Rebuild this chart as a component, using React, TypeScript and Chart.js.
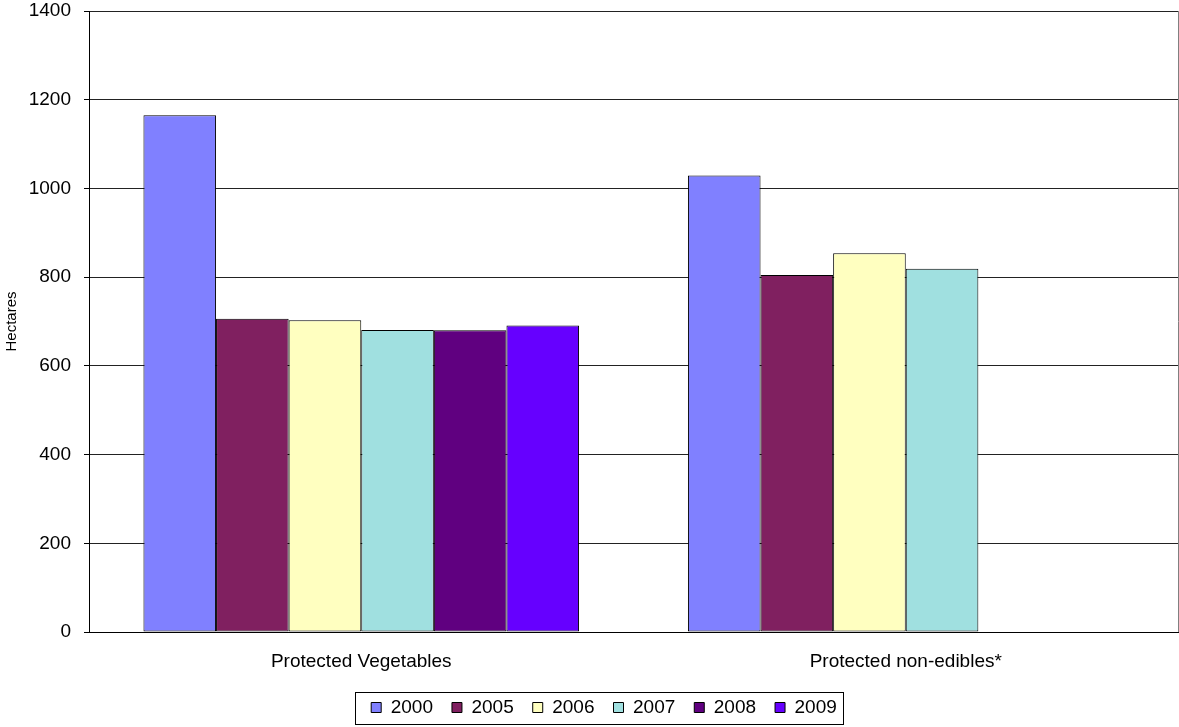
import React, { useEffect, useRef } from "react";
import { Chart, registerables } from "chart.js";

Chart.register(...registerables);

const categories = ["Protected Vegetables", "Protected non-edibles*"];
const seriesLabels = ["2000", "2005", "2006", "2007", "2008", "2009"];
const values2000 = [1165, 1029];
const values2005 = [706, 805];
const values2006 = [703, 854];
const values2007 = [681, 819];
const values2008 = [680, null];
const values2009 = [691, null];
const seriesColors = ["#8080FF", "#802060", "#FFFFC0", "#A0E0E0", "#600080", "#6600FF"];
const yTicks = { min: 0, max: 1400, step: 200 };

const FONT = "'Liberation Sans', Arial, sans-serif";

const chromePlugin = {
  id: "chrome",
  afterLayout(chart: any) {
    const lg = chart.legend;
    if (!lg) return;
    const shift = 15;
    lg.left += shift;
    lg.right += shift;
    (lg.legendHitBoxes || []).forEach((h: any) => (h.left += shift));
  },
  afterDraw(chart: any) {
    const ctx = chart.ctx;
    const a = chart.chartArea;
    ctx.save();
    ctx.strokeStyle = "#808080";
    ctx.lineWidth = 1;
    ctx.beginPath();
    ctx.moveTo(Math.round(a.right) + 0.5, a.top);
    ctx.lineTo(Math.round(a.right) + 0.5, a.bottom);
    ctx.stroke();
    const boxes = chart.legend?.legendHitBoxes || [];
    if (boxes.length) {
      const first = boxes[0];
      const last = boxes[boxes.length - 1];
      const left = first.left - 16;
      const right = last.left + last.width + 6;
      const top = first.top - 6;
      const bottom = first.top + first.height + 7;
      ctx.strokeStyle = "#000";
      ctx.strokeRect(Math.round(left) + 0.5, Math.round(top) + 0.5, Math.round(right - left), Math.round(bottom - top));
    }
    ctx.restore();
  },
};

export default function App() {
  const ref = useRef<HTMLCanvasElement | null>(null);
  useEffect(() => {
    if (!ref.current) return;
    const seriesValues = [values2000, values2005, values2006, values2007, values2008, values2009];
    const chart = new Chart(ref.current, {
      type: "bar",
      data: {
        labels: categories,
        datasets: seriesLabels.map((label, i) => ({
          label,
          data: seriesValues[i],
          backgroundColor: seriesColors[i],
          borderColor: "#000",
          borderWidth: 1,
          borderSkipped: false,
          categoryPercentage: 0.8,
          barPercentage: 1.0,
        })),
      },
      options: {
        animation: false,
        responsive: false,
        maintainAspectRatio: false,
        layout: { padding: { top: 11, right: 1, left: 0, bottom: 0 } },
        plugins: {
          tooltip: { enabled: false },
          legend: {
            position: "bottom",
            labels: {
              boxWidth: 10,
              boxHeight: 10,
              padding: 19,
              color: "#000",
              font: { family: FONT, size: 19 },
            },
          },
        },
        scales: {
          x: {
            grid: { display: false, drawTicks: false },
            border: { display: true, color: "#000", width: 1 },
            ticks: { color: "#000", padding: 18, font: { family: FONT, size: 19 } },
            afterFit: (s: any) => {
              s.height = 47;
            },
          },
          y: {
            min: yTicks.min,
            max: yTicks.max,
            ticks: {
              stepSize: yTicks.step,
              color: "#000",
              padding: 13,
              font: { family: FONT, size: 19 },
              callback: (v: any) => String(v),
            },
            grid: { color: "#222", lineWidth: 1, tickLength: 5, tickColor: "#000" },
            border: { display: true, color: "#000", width: 1 },
            title: {
              display: true,
              text: "Hectares",
              color: "#000",
              font: { family: FONT, size: 15 },
              padding: { top: 3, bottom: 0 },
            },
            afterFit: (s: any) => {
              s.width = 89;
              s.paddingTop = 0;
              s.paddingBottom = 0;
            },
          },
        },
      },
      plugins: [chromePlugin],
    } as any);
    return () => chart.destroy();
  }, []);
  return (
    <div style={{ position: "fixed", left: 0, top: 0, width: 1179, height: 727, background: "#fff" }}>
      <canvas ref={ref} width={1179} height={727} style={{ display: "block", width: 1179, height: 727 }} />
    </div>
  );
}
